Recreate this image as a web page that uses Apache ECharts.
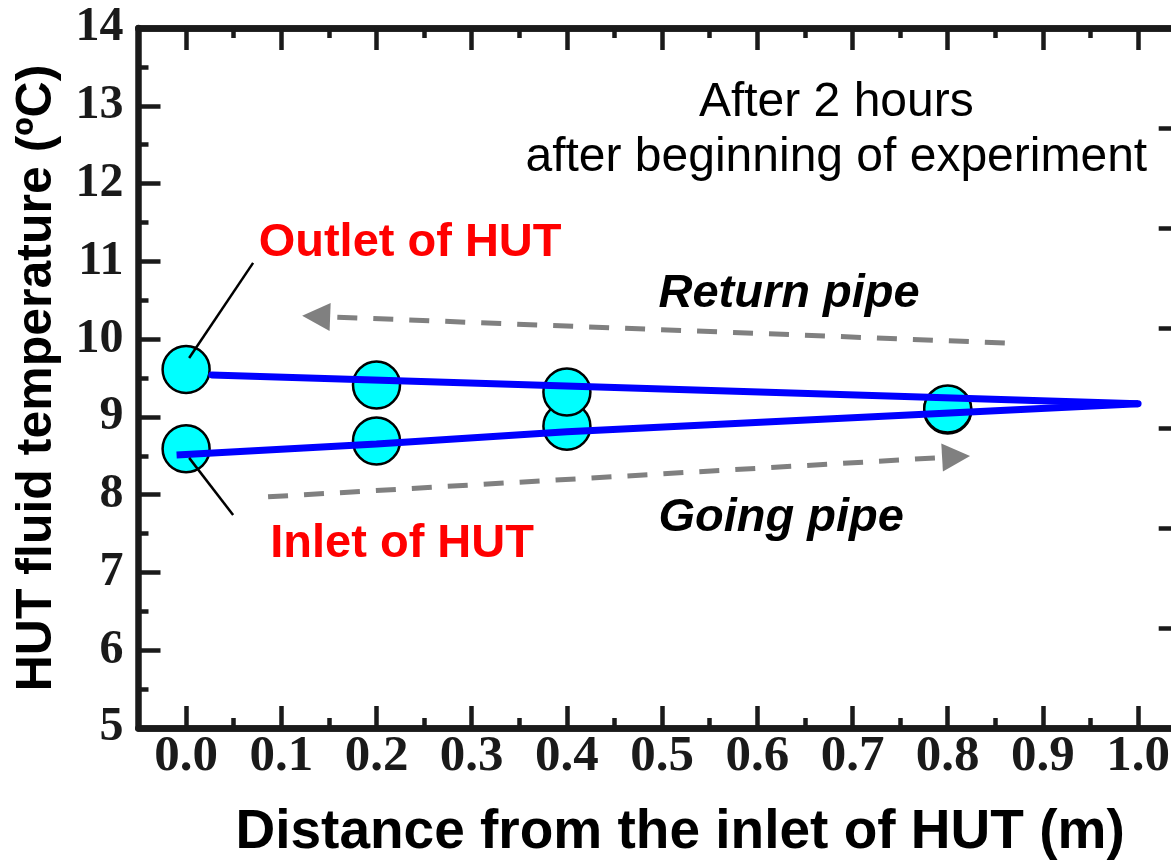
<!DOCTYPE html>
<html>
<head>
<meta charset="utf-8">
<script src="https://cdn.jsdelivr.net/npm/echarts@6/dist/echarts.min.js"></script>
<style>
  html, body { margin: 0; padding: 0; background: #ffffff; }
  #chart { width: 1171px; height: 860px; }
</style>
</head>
<body>
<div id="chart"></div>
<script>
// Axis ticks (distance along the HUT, m)
const xMajorTicks = [0.0, 0.1, 0.2, 0.3, 0.4, 0.5, 0.6, 0.7, 0.8, 0.9, 1.0];
const xMinorTicks = [0.05, 0.15, 0.25, 0.35, 0.45, 0.55, 0.65, 0.75, 0.85, 0.95];

// Measured fluid temperatures (degC)
const outletDistance = [0.0, 0.2, 0.4, 0.8];
const outletTemp     = [9.61, 9.41, 9.32, 9.10];
const inletDistance  = [0.0, 0.2, 0.4, 0.8];
const inletTemp      = [8.59, 8.69, 8.88, 9.09];

// Blue guide lines: return pipe (upper) and going pipe (lower)
const returnLineDistance = [0.027, 1.0];
const returnLineTemp     = [9.54, 9.17];
const goingLineDistance  = [-0.01, 0.2, 0.4, 1.0];
const goingLineTemp      = [8.51, 8.65, 8.81, 9.17];

// Annotation texts, anchored in data coordinates
const noteTexts  = ['After 2 hours\nafter beginning of experiment', 'Outlet of HUT', 'Inlet of HUT', 'Return pipe', 'Going pipe'];
const notePoints = [[0.683, 12.69], [0.2353, 11.24], [0.2269, 7.36], [0.6334, 10.58], [0.625, 7.70]];

// Flow-direction arrows [tail, head] and leader lines [from, to]
const returnArrow  = [[0.860, 9.951], [0.1366, 10.292]];
const goingArrow   = [[0.0861, 7.972], [0.8088, 8.488]];
const outletLeader = [[0.0704, 10.98], [0.0032, 9.758]];
const inletLeader  = [[0.0032, 8.473], [0.0494, 7.740]];

const zip = (xs, ys) => xs.map((x, i) => [x, ys[i]]);

const AXIS_COLOR = '#1a1a1a';
const SANS = '"Liberation Sans", Arial, sans-serif';
const SERIF = '"Liberation Serif", "Times New Roman", serif';

function xAxisDef(position, ticks, tickLen, withLabels) {
  return {
    type: 'value', position: position, min: -0.05, max: 1.05, gridIndex: 0,
    axisLine: { show: true, onZero: false, lineStyle: { color: AXIS_COLOR, width: 6.5 } },
    axisTick: { show: true, inside: true, length: tickLen, customValues: ticks,
                lineStyle: { color: AXIS_COLOR, width: 4.5 } },
    axisLabel: withLabels ? {
      show: true, customValues: xMajorTicks, margin: 3,
      formatter: v => v.toFixed(1),
      fontFamily: SERIF, fontWeight: 'bold', fontSize: 51, color: AXIS_COLOR
    } : { show: false },
    splitLine: { show: false }
  };
}

const chart = echarts.init(document.getElementById('chart'), null, { renderer: 'canvas' });

const noteStyles = [
  { fontFamily: SANS, fontSize: 48, color: '#000000', lineHeight: 55, align: 'center' },
  { fontFamily: SANS, fontSize: 47, fontWeight: 'bold', color: '#ff0000' },
  { fontFamily: SANS, fontSize: 47, fontWeight: 'bold', color: '#ff0000' },
  { fontFamily: SANS, fontSize: 47, fontWeight: 'bold', fontStyle: 'italic', color: '#000000' },
  { fontFamily: SANS, fontSize: 47, fontWeight: 'bold', fontStyle: 'italic', color: '#000000' }
];

const option = {
  animation: false,
  backgroundColor: '#ffffff',
  grid: { left: 138.5, top: 28, width: 1047.2, height: 700, containLabel: false, outerBoundsMode: 'none' },
  xAxis: [
    Object.assign(xAxisDef('bottom', xMajorTicks, 22, true), {
      name: 'Distance from the inlet of HUT (m)', nameLocation: 'middle', nameGap: 77,
      nameTextStyle: { fontFamily: SANS, fontWeight: 'bold', fontSize: 55, color: '#000000', padding: [0, 0, 0, 36] }
    }),
    xAxisDef('bottom', xMinorTicks, 10, false),
    xAxisDef('top', xMajorTicks, 22, false),
    xAxisDef('top', xMinorTicks, 10, false)
  ],
  yAxis: [
    {
      type: 'value', position: 'left', min: 5, max: 14, interval: 1,
      axisLine: { show: true, onZero: false, lineStyle: { color: AXIS_COLOR, width: 6.5 } },
      axisTick: { show: true, inside: true, length: 22, lineStyle: { color: AXIS_COLOR, width: 4.5 } },
      minorTick: { show: true, splitNumber: 2, length: 10, lineStyle: { color: AXIS_COLOR, width: 4.5 } },
      axisLabel: { show: true, margin: 15, fontFamily: SERIF, fontWeight: 'bold', fontSize: 48, color: AXIS_COLOR },
      splitLine: { show: false },
      name: 'HUT fluid temperature (ºC)', nameLocation: 'middle', nameGap: 76,
      nameTextStyle: { fontFamily: SANS, fontWeight: 'bold', fontSize: 50, color: '#000000' }
    },
    {
      type: 'value', position: 'right', min: 0, max: 7, interval: 1,
      axisLine: { show: true, onZero: false, lineStyle: { color: AXIS_COLOR, width: 6.5 } },
      axisTick: { show: true, inside: true, length: 27, lineStyle: { color: AXIS_COLOR, width: 4.5 } },
      axisLabel: { show: false },
      splitLine: { show: false }
    }
  ],
  series: [
    {
      name: 'Inlet', type: 'scatter', xAxisIndex: 0, yAxisIndex: 0, z: 2,
      data: zip(inletDistance, inletTemp),
      symbol: 'circle', symbolSize: 47,
      itemStyle: { color: '#00ffff', borderColor: '#000', borderWidth: 2.5, opacity: 1 }
    },
    {
      name: 'Outlet', type: 'scatter', xAxisIndex: 0, yAxisIndex: 0, z: 2,
      data: zip(outletDistance, outletTemp),
      symbol: 'circle', symbolSize: 47,
      itemStyle: { color: '#00ffff', borderColor: '#000', borderWidth: 2.5, opacity: 1 }
    },
    {
      name: 'Return pipe', type: 'line', xAxisIndex: 0, yAxisIndex: 0, z: 3,
      data: zip(returnLineDistance, returnLineTemp), showSymbol: false, symbol: 'none',
      lineStyle: { color: '#0000ff', width: 7, cap: 'round' }
    },
    {
      name: 'Going pipe', type: 'line', xAxisIndex: 0, yAxisIndex: 0, z: 3,
      data: zip(goingLineDistance, goingLineTemp), showSymbol: false, symbol: 'none',
      lineStyle: { color: '#0000ff', width: 7, cap: 'butt' }
    },
    {
      name: 'Notes', type: 'scatter', xAxisIndex: 0, yAxisIndex: 0, z: 4, silent: true,
      symbolSize: 0, clip: false,
      itemStyle: { opacity: 1 },
      data: notePoints.map((p, i) => ({
        value: p, name: noteTexts[i],
        label: Object.assign({ show: true, position: 'inside', formatter: '{b}', opacity: 1 }, noteStyles[i])
      })),
      markLine: {
        silent: true, animation: false,
        label: { show: false },
        emphasis: { disabled: true },
        data: [
          [ { coord: returnArrow[0], symbol: 'none' },
            { coord: returnArrow[1], symbol: 'triangle', symbolSize: 28 } ],
          [ { coord: goingArrow[0], symbol: 'none' },
            { coord: goingArrow[1], symbol: 'triangle', symbolSize: 28 } ]
        ].map(d => {
          d[0].lineStyle = { color: '#808080', width: 5, type: [20, 16] };
          d[0].itemStyle = { color: '#808080' };
          d[1].itemStyle = { color: '#808080' };
          return d;
        }).concat([
          [ { coord: outletLeader[0], symbol: 'none', lineStyle: { color: '#000', width: 2.5, type: 'solid' } },
            { coord: outletLeader[1], symbol: 'none' } ],
          [ { coord: inletLeader[0], symbol: 'none', lineStyle: { color: '#000', width: 2.5, type: 'solid' } },
            { coord: inletLeader[1], symbol: 'none' } ]
        ])
      }
    }
  ]
};

chart.setOption(option);
</script>
</body>
</html>
